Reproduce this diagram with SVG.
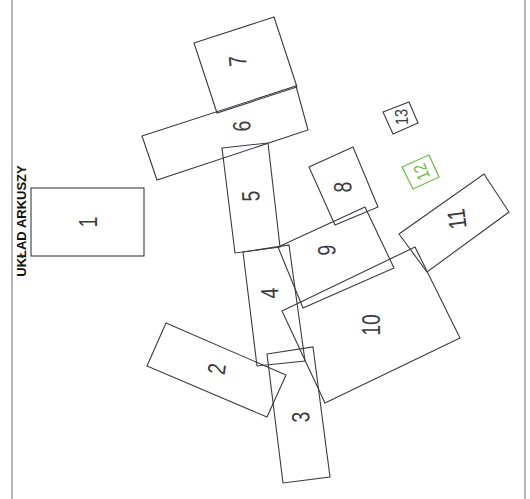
<svg xmlns="http://www.w3.org/2000/svg" width="530" height="499" viewBox="0 0 530 499">
<style>
.s{fill:none;stroke:#3a3a44;stroke-width:1.1}
.g{fill:none;stroke:#6cc04a;stroke-width:1.3}
.t{font-family:"Liberation Sans",Arial,sans-serif;font-size:25px;fill:#3a3a44;text-anchor:middle;dominant-baseline:central}
.sm{font-size:18px}
.tg{fill:#6cc04a}
.f{stroke:#a0a0a0;stroke-width:1.5}
</style>
<rect width="530" height="499" fill="#fff"/>
<g id="frame">
<line class="f" x1="12" y1="0" x2="12" y2="499"/>
<line class="f" x1="525" y1="0" x2="525" y2="499"/>
</g>
<text x="26" y="221" transform="rotate(-90 26 221)" style="font-family:'Liberation Sans',Arial,sans-serif;font-size:13px;font-weight:bold;fill:#111;text-anchor:middle">UKŁAD ARKUSZY</text>
<g id="connectors"></g>
<g id="sheet1"><rect class="s" x="31" y="188" width="113" height="68"/><text class="t" transform="translate(89 222) rotate(-90) scale(0.78 1)">1</text></g>
<g id="sheet2"><polygon class="s" points="166,323 286,375 267,417 147,366"/><text class="t" transform="translate(217 369) rotate(-82) scale(0.78 1)">2</text></g>
<g id="sheet3"><polygon class="s" points="267,354 313,347 330,477 283,483"/><text class="t" transform="translate(301 417) rotate(-92) scale(0.78 1)">3</text></g>
<g id="sheet4"><polygon class="s" points="243,252 289,245 305,361 257,366"/><text class="t" transform="translate(270 293) rotate(-92) scale(0.78 1)">4</text></g>
<g id="sheet5"><polygon class="s" points="222,148 268,143 280,247 235,253"/><text class="t" transform="translate(251 196) rotate(-92) scale(0.78 1)">5</text></g>
<g id="sheet6"><polygon class="s" points="142,136 296,86 308,130 157,180"/><text class="t" transform="translate(242 126) rotate(-92) scale(0.78 1)">6</text></g>
<g id="sheet7"><polygon class="s" points="194,43 274,17 297,87 217,113"/><text class="t" transform="translate(238 61) rotate(-95) scale(0.78 1)">7</text></g>
<g id="sheet8"><polygon class="s" points="309,167 353,147 378,207 335,225"/><text class="t" transform="translate(343 187) rotate(-92) scale(0.78 1)">8</text></g>
<g id="sheet9"><polygon class="s" points="278,247 365,207 394,268 303,308"/><text class="t" transform="translate(327 250) rotate(-92) scale(0.78 1)">9</text></g>
<g id="sheet10"><polygon class="s" points="282,311 415,247 460,338 325,403"/><text class="t" transform="translate(372 325) rotate(-90) scale(0.78 1)">10</text></g>
<g id="sheet11"><polygon class="s" points="399,234 484,174 509,212 427,272"/><text class="t" transform="translate(457 219) rotate(-98) scale(0.78 1)">11</text></g>
<g id="sheet12"><polygon class="g" points="402,167 429,155 439,177 413,189"/><text class="t sm tg" transform="translate(421 172) rotate(-112) scale(0.8 1)">12</text></g>
<g id="sheet13"><polygon class="s" points="383,112 409,102 418,123 393,134"/><text class="t sm" transform="translate(401 117) rotate(-92) scale(0.8 1)">13</text></g>
</svg>
